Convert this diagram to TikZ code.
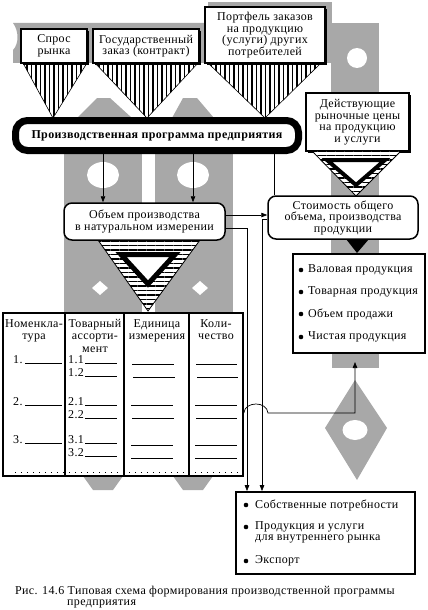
\documentclass[tikz,border=0pt]{standalone}
\usepackage{fontspec}
\setmainfont{Liberation Serif}[LetterSpace=3]
\usetikzlibrary{arrows.meta,patterns.meta,shadows}
\definecolor{pillar}{RGB}{168,168,168}

\begin{document}
\begin{tikzpicture}[
		x=1pt, y=-1pt,
		font=\fontsize{12}{11.5}\selectfont,
		topbox/.style={rectangle, draw, fill=white, line width=1.2pt, align=center, inner sep=1pt,
			general shadow={fill=black, shadow xshift=1.8pt, shadow yshift=-1.8pt}},
		roundbox/.style={rectangle, rounded corners=8pt, draw, fill=white, line width=1.5pt, align=center, inner sep=1pt},
		listbox/.style={rectangle, draw, fill=white, line width=1.8pt, inner sep=0pt},
		bulitem/.style={anchor=west, inner sep=0pt, align=left},
		hdr/.style={anchor=north, inner sep=0pt, align=center, font=\fontsize{12}{12.5}\selectfont},
		num/.style={anchor=base west, inner sep=0pt},
		blank/.style={line width=1pt},
		arr/.style={-{Triangle[length=6pt,width=4.5pt]}, line width=0.7pt},
		conn/.style={line width=0.7pt},
		vstripes/.style={draw, line width=0.6pt, preaction={fill=white},
			pattern={Lines[angle=90,distance=4.5pt,line width=1.3pt]}},
		hstripes/.style={draw, line width=0.8pt, preaction={fill=white},
			pattern={Lines[angle=0,distance=4.5pt,line width=1.7pt]}}
	]
  \useasboundingbox (0,0) rectangle (428,610);

  % gray background
  \fill[pillar] (205,23) -- (13,23) .. controls (19,31) and (19,44) .. (13,50) -- (13,63) -- (205,63) -- cycle;
  \fill[pillar] (208,2) rectangle (332,63);
  \fill[pillar] (331,23) rectangle (379,253);
  \fill[white] (357,58) circle (10);
  \fill[pillar] (64,150) rectangle (142,314);
  \fill[pillar] (155,150) rectangle (233,314);
  \fill[pillar] (77,118) -- (97,98) -- (110,98) -- (132,118) -- cycle;
  \fill[pillar] (172,118) -- (183,98) -- (197,98) -- (214,118) -- cycle;
  \fill[pillar] (83,476) -- (93,490) -- (113,490) -- (123,476) -- cycle;
  \fill[pillar] (173,476) -- (183,490) -- (203,490) -- (213,476) -- cycle;
  \fill[white] (103,175) ellipse [x radius=16, y radius=13];
  \fill[white] (193,175) ellipse [x radius=16, y radius=13];
  \fill[white] (100,281) -- (108,288) -- (100,295) -- (92,288) -- cycle;
  \fill[white] (200,281) -- (208,288) -- (200,295) -- (192,288) -- cycle;
  \fill[pillar] (332,353) rectangle (379,368);
  \fill[pillar] (355,380) -- (387,428) -- (357,480) -- (325,428) -- cycle;
  \fill[white] (355,430) ellipse [x radius=12.5, y radius=10];

  % funnels into the programme
  \path[vstripes] (23,63) -- (87,63) -- (53,118) -- cycle;
  \path[vstripes] (95,63) -- (198,63) -- (147,118) -- cycle;
  \path[vstripes] (208,63) -- (321,63) -- (265,118) -- cycle;

  \node (spros) [topbox, minimum width=66pt, minimum height=34pt] at (54,46) {Спрос\\рынка};
  \node (goszakaz) [topbox, minimum width=106pt, minimum height=34pt] at (146,46) {Государственный\\заказ (контракт)};
  \node (portfel) [topbox, minimum width=120pt, minimum height=56pt] at (265,35) {Портфель заказов\\на продукцию\\(услуги) других\\потребителей};
  \node (ceny) [topbox, minimum width=103pt, minimum height=58pt] at (357.5,122) {Действующие\\рыночные цены\\на продукцию\\и услуги};

  \node (program) [rectangle, rounded corners=12pt, draw, line width=7pt, fill=white,
    minimum width=283pt, minimum height=30pt, font=\bfseries\fontsize{12}{12}\selectfont] at (157,135.5) {Производственная программа предприятия};

  % funnels below
  \path[hstripes] (312,151) -- (401,151) -- (356,196) -- cycle;
  \draw[line width=4pt, fill=white] (327,160) -- (385,160) -- (356,185) -- cycle;
  \path[hstripes] (98,240) -- (200,240) -- (148,311) -- cycle;
  \draw[line width=5pt, fill=white] (121,254.5) -- (175,254.5) -- (148,284) -- cycle;
  \fill (346,239) -- (369,239) -- (357,253) -- cycle;

  \node (obem) [roundbox, minimum width=161pt, minimum height=37pt] at (144.5,221.5) {Объем производства\\в натуральном измерении};
  \node (stoimost) [roundbox, minimum width=150pt, minimum height=43pt] at (343,217.5) {Стоимость общего\\объема, производства\\продукции};

  % value list
  \node (list1) [listbox, minimum width=132pt, minimum height=99pt] at (359,303.5) {};
  \node (val) [bulitem] at (308,270) {Валовая продукция};
  \node (tov) [bulitem] at (308,292) {Товарная продукция};
  \node (prod) [bulitem] at (308,314) {Объем продажи};
  \node (chist) [bulitem] at (308,337) {Чистая продукция};
  \fill (301,270) circle (2.3) (301,292) circle (2.3) (301,314) circle (2.3) (301,337) circle (2.3);

  % table
  \node (tbl) [draw, line width=1.6pt, minimum width=240pt, minimum height=163pt, inner sep=0pt] at (123,394.5) {};
  \draw[line width=1.2pt] (tbl.north -| 65,0) -- (tbl.south -| 65,0);
  \draw[line width=1.2pt] (tbl.north -| 124,0) -- (tbl.south -| 124,0);
  \draw[line width=1.2pt] (tbl.north -| 189,0) -- (tbl.south -| 189,0);
  \node (h1) [hdr] at (34,319) {Номенкла-\\тура};
  \node (h2) [hdr] at (95,319) {Товарный\\ассорти-\\мент};
  \node (h3) [hdr] at (157,319) {Единица\\измерения};
  \node (h4) [hdr] at (216,319) {Коли-\\чество};

  \node (n1) [num] at (13,363) {1.};
  \node (n2) [num] at (13,405) {2.};
  \node (n3) [num] at (13,443) {3.};
  \node (n11) [num] at (68,363) {1.1};
  \node (n12) [num] at (68,376) {1.2};
  \node (n21) [num] at (68,405) {2.1};
  \node (n22) [num] at (68,418) {2.2};
  \node (n31) [num] at (68,443) {3.1};
  \node (n32) [num] at (68,456) {3.2};
  \draw[blank] (25,363) -- (62,363) (85,363) -- (117,363) (132,364) -- (174,364) (196,364) -- (237,364);
  \draw[blank] (85,376) -- (117,376) (133,377) -- (175,377) (197,377) -- (238,377);
  \draw[blank] (25,405) -- (62,405) (85,405) -- (117,405) (131,405) -- (173,405) (195,405) -- (237,405);
  \draw[blank] (85,418) -- (117,418) (132,418) -- (174,418) (196,418) -- (237,418);
  \draw[blank] (25,443) -- (62,443) (85,443) -- (117,443) (131,445) -- (173,445) (195,445) -- (237,445);
  \draw[blank] (85,456) -- (117,456) (131,458) -- (173,458) (195,458) -- (237,458);
  \draw[line width=0.8pt, dash pattern=on 0.8pt off 5.2pt] (15,472) -- (240,472);

  % use list
  \node (list2) [listbox, minimum width=179pt, minimum height=82pt] at (325.5,533) {};
  \node (sobst) [bulitem] at (255,505) {Собственные потребности};
  \node (vnutr) [bulitem] at (255,532.5) {Продукция и услуги\\для внутреннего рынка};
  \node (eksport) [bulitem] at (255,561) {Экспорт};
  \fill (246,505) circle (2.3) (246,527) circle (2.3) (246,561) circle (2.3);

  \node (caption) [anchor=north west, inner sep=0pt, align=left, font=\fontsize{12}{11}\selectfont] at (15,586) {Рис. 14.6 Типовая схема формирования производственной программы\\\hspace*{52pt}предприятия};

  % connectors
  \coordinate (cA) at (103,175);
  \coordinate (cB) at (193,175);
  \coordinate (cC) at (274,175);
  \coordinate (dnA) at (247,228);
  \coordinate (dnB) at (262,219);
  \coordinate (hop) at (243,413);
  \coordinate (upEnd) at (355,362);
  \draw[arr] (program.south -| cA) -- (obem.north -| cA);
  \draw[arr] (program.south -| cB) -- (obem.north -| cB);
  \draw[conn] (program.south -| cC) -- (stoimost.north -| cC);
  \draw[arr] (obem.east |- 0,215) -- (stoimost.west |- 0,215);
  \draw[arr] (obem.east |- dnA) -- (dnA) -- (list2.north -| dnA);
  \draw[arr] (stoimost.west |- dnB) -- (dnB) -- (list2.north -| dnB);
  \draw[arr] (tbl.east |- hop) .. controls (245,401) and (267,401) .. (268,413) -- (upEnd |- hop) -- (upEnd);
\end{tikzpicture}
\end{document}
